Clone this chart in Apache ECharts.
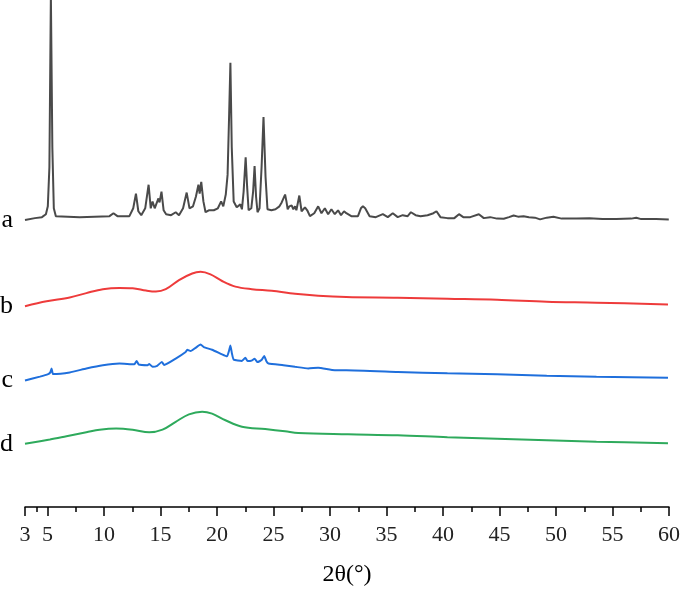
<!DOCTYPE html>
<html>
<head>
<meta charset="utf-8">
<script src="https://cdn.jsdelivr.net/npm/echarts@6/dist/echarts.min.js"></script>
<style>html,body{margin:0;padding:0;background:#fff;overflow:hidden}#c{width:683px;height:592px}</style>
</head>
<body>
<div id="c"></div>
<script>
// Tick labels / tick positions
const majorTicks = [3, 5, 10, 15, 20, 25, 30, 35, 40, 45, 50, 55, 60];
const minorTicks = [4, 7.5, 12.5, 17.5, 22.5, 27.5, 32.5, 37.5, 42.5, 47.5, 52.5, 57.5];
const seriesNames = ['a', 'b', 'c', 'd'];
const seriesColors = ['#4a4a4a', '#ee3b3b', '#1f6fdc', '#2eaa5c'];
// vertical stacking offsets (arbitrary intensity units)
const offsets = [292, 204, 128, 64];

// [2θ, relative intensity]
const curveA = [
[3.00,0],[3.88,2],[4.50,3],[4.85,6],[5.02,14],[5.16,54],[5.29,229],[5.42,74],[5.55,12],[5.73,4],
[7.84,3],[10.48,4],[10.83,7],[10.98,8],[11.18,4],[12.24,4],[12.58,12],[12.82,27],[13.03,9],[13.29,5],
[13.64,12],[13.94,36],[14.13,12],[14.29,19],[14.48,12],[14.61,16],[14.81,22],[14.91,18],[15.08,29],[15.27,10],
[15.49,6],[15.93,5],[16.34,8],[16.63,5],[16.99,12],[17.31,28],[17.56,12],[17.87,14],[18.13,24],[18.35,36],
[18.46,27],[18.60,39],[18.79,19],[18.98,8],[19.27,10],[19.71,10],[20.07,12],[20.36,19],[20.55,14],[20.77,26],
[20.93,46],[21.06,104],[21.18,160],[21.30,74],[21.47,19],[21.74,13],[22.06,16],[22.20,11],[22.35,29],[22.53,64],
[22.66,34],[22.79,10],[23.03,12],[23.19,29],[23.32,55],[23.45,24],[23.58,8],[23.76,12],[23.94,54],[24.11,105],
[24.29,44],[24.46,11],[24.81,10],[25.17,11],[25.52,14],[25.72,18],[26.02,26],[26.14,19],[26.25,11],[26.40,14],
[26.60,15],[26.75,11],[26.90,14],[27.02,10],[27.28,25],[27.48,9],[27.78,13],[27.98,10],[28.22,4],[28.60,7],
[28.95,14],[29.24,7],[29.54,12],[29.83,6],[30.12,11],[30.42,6],[30.71,10],[30.97,5],[31.24,9],[31.44,7],
[31.88,4],[32.47,4],[32.73,12],[32.91,14],[33.11,12],[33.50,4],[34.05,3],[34.67,6],[35.11,3],[35.55,7],
[35.99,3],[36.43,5],[36.87,4],[37.16,8],[37.57,5],[38.01,4],[38.63,5],[39.15,7],[39.42,9],[39.77,3],
[40.39,2],[41.00,2],[41.41,6],[41.79,3],[42.41,3],[43.17,6],[43.61,2],[44.17,3],[44.78,1.5],[45.37,1.3],
[45.84,3],[46.25,4.7],[46.63,3.5],[47.13,4],[47.60,3],[48.13,2.5],[48.59,0.7],[49.18,2.5],[49.77,3.3],[50.50,1.5],
[51.82,1.5],[52.96,2],[54.11,1],[55.34,1],[56.66,1.5],[57.10,2.3],[57.54,1],[58.86,1],[59.98,0.7]
];
const curveB = [
[3.00,0.3],[4.91,5.3],[6.96,9.3],[8.43,13.7],[9.89,17.7],[11.36,19],[12.53,18.7],[13.71,16.3],[14.59,15.3],[15.46,17.7],
[16.63,27],[17.80,33.7],[18.54,35.3],[19.42,32.7],[20.44,26],[21.62,20.3],[23.08,17.7],[24.84,16],[26.90,13],[28.95,11],
[31.44,9.7],[35.99,9],[40.39,8],[44.78,7],[49.18,5],[53.58,4],[59.91,2]
];
const curveC = [
[3.00,0.7],[4.32,4.7],[5.05,7.3],[5.24,9],[5.35,13],[5.49,7.3],[6.96,9],[8.43,13],[9.89,16.3],[11.36,18],
[12.68,17.3],[12.88,20.7],[13.07,17],[13.85,16.3],[14.00,17.5],[14.29,14.7],[14.70,15.7],[15.11,19.7],[15.32,16.5],[16.34,23],
[17.22,29.7],[17.36,32],[17.66,30.7],[18.10,34],[18.54,37.3],[18.83,34.7],[19.56,32],[20.44,27.3],[20.88,25.3],[21.06,31],
[21.18,36.3],[21.32,28],[21.47,22],[22.20,20.7],[22.50,24],[22.70,20.5],[23.06,21],[23.32,23],[23.58,19.5],[23.94,21.5],
[24.17,25.7],[24.38,20],[24.55,18],[25.87,16.3],[26.90,14.7],[28.07,13],[28.95,13.7],[30.42,11.3],[31.44,11.3],[35.99,9.5],
[40.39,8],[44.78,7],[49.18,5.5],[53.58,4.5],[59.91,3.5]
];
const curveD = [
[3.00,0.3],[5.20,4.7],[6.67,8],[8.43,12],[9.60,14.7],[11.07,16],[12.53,14.7],[14.00,12],[15.17,14.7],[16.34,22.7],
[17.51,30.3],[18.68,33],[19.56,31],[20.74,24.3],[22.20,17.7],[24.26,15.3],[26.02,13],[27.19,11.3],[31.59,10],[35.99,9],
[40.39,7],[44.78,5.5],[49.18,4],[53.58,2.5],[59.91,1]
];
const curves = [curveA, curveB, curveC, curveD];
const smoothing = [false, 0.35, 0.15, 0.35];

const chart = echarts.init(document.getElementById('c'), null, {renderer: 'canvas'});
const FONT = '"Liberation Serif", "Times New Roman", serif';

const series = curves.map((raw, i) => {
  const data = raw.map(p => [p[0], p[1] + offsets[i]]);
  data[0] = {
    value: data[0],
    label: {show: true, formatter: seriesNames[i], position: 'left', distance: 12,
            fontFamily: FONT, fontSize: 26, color: '#000'}
  };
  return {
    name: seriesNames[i], type: 'line', data: data,
    symbol: 'circle', symbolSize: 0, showSymbol: true, showAllSymbol: true,
    smooth: smoothing[i], animation: false, clip: true,
    lineStyle: {color: seriesColors[i], width: 2},
    itemStyle: {color: seriesColors[i]},
    label: {show: false},
    xAxisIndex: 0, yAxisIndex: 0
  };
});

chart.setOption({
  backgroundColor: '#fff',
  animation: false,
  grid: {left: 25, right: 9, top: 0, bottom: 76, containLabel: false},
  xAxis: [
    {
      type: 'value', min: 3, max: 60, position: 'bottom',
      name: '2θ(°)', nameLocation: 'middle', nameGap: 56,
      nameTextStyle: {fontFamily: FONT, fontSize: 24, color: '#000'},
      axisLine: {show: true, lineStyle: {color: '#000', width: 1.5}},
      axisTick: {show: true, length: 9, inside: false, lineStyle: {color: '#000', width: 1.5}, customValues: majorTicks},
      axisLabel: {show: true, margin: 17, fontFamily: FONT, fontSize: 22, color: '#222', customValues: majorTicks},
      splitLine: {show: false}
    },
    {
      type: 'value', min: 3, max: 60, position: 'bottom',
      axisLine: {show: false},
      axisTick: {show: true, length: 5, lineStyle: {color: '#000', width: 1.5}, customValues: minorTicks},
      axisLabel: {show: false},
      splitLine: {show: false}
    }
  ],
  yAxis: {type: 'value', min: 0, max: 516, show: false},
  series: series
});
</script>
</body>
</html>
